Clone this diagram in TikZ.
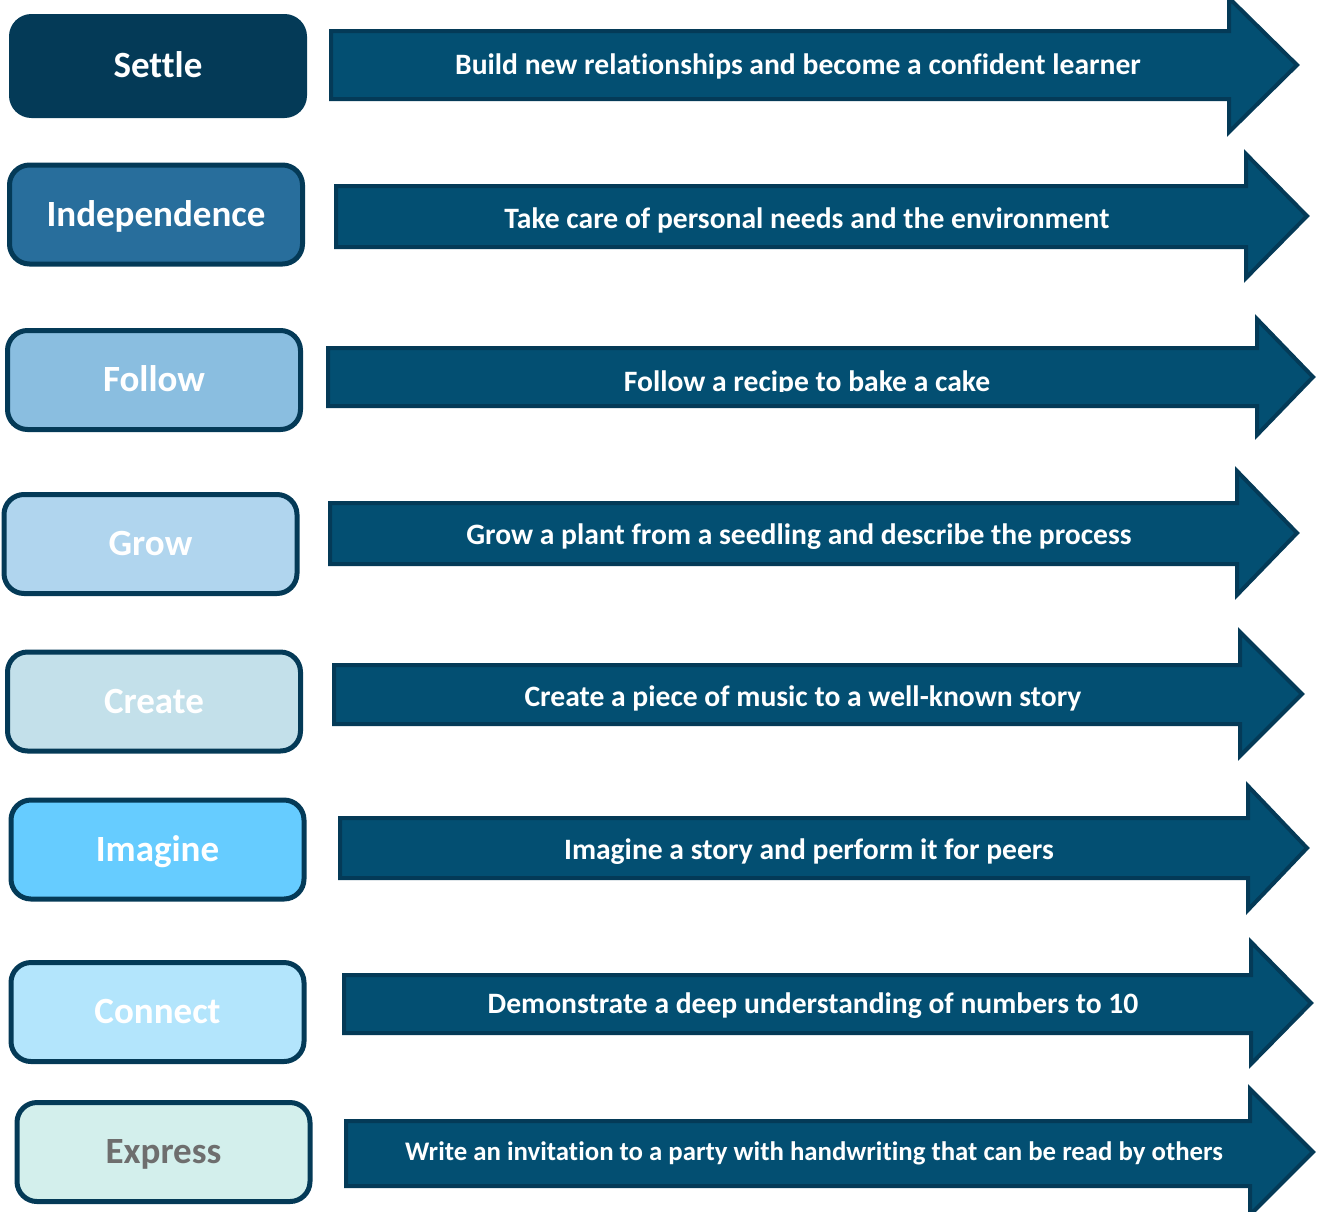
\documentclass[tikz,border=0pt]{standalone}
\usepackage{fontspec}
\setmainfont{Carlito}[Ligatures=NoCommon]
\definecolor{sotet}{HTML}{043A57}
\definecolor{csikkek}{HTML}{034F72}
\definecolor{settlek}{HTML}{043A57}
\definecolor{indepk}{HTML}{286E9C}
\definecolor{followk}{HTML}{8ABEE0}
\definecolor{growk}{HTML}{B0D5EE}
\definecolor{createk}{HTML}{C3E0EA}
\definecolor{imaginek}{HTML}{66CCFF}
\definecolor{connectk}{HTML}{B3E5FC}
\definecolor{expressk}{HTML}{D3EFEC}
\definecolor{szurke}{HTML}{6E6E6E}
\tikzset{
  kartya/.style={draw=sotet,line width=2.5pt,rounded corners=10pt,
    minimum width=146.5pt,minimum height=49.5pt,inner sep=0pt,text=white,
    text height=14.5pt,text depth=3pt,font=\fontsize{18.5}{22}\selectfont\bfseries},
  csik/.style={draw=sotet,fill=csikkek,line width=2pt,line join=miter},
  felirat/.style={text=white,inner sep=0pt,font=\fontsize{14.8}{17}\selectfont\bfseries},
}
% shaft left, shaft top, shaft bottom, head base, tip x, tip y, half head
\newcommand{\csikrajz}[7]{%
  \draw[csik] (#1,#2) -- (#4,#2) -- (#4,{#6-#7}) -- (#5,#6) -- (#4,{#6+#7})
    -- (#4,#3) -- (#1,#3) -- cycle;}

\begin{document}
\begin{tikzpicture}[x=0.5pt,y=-0.5pt]
  \useasboundingbox (0,0) rectangle (1323,1211);
  % left column of cards
  \node[kartya,fill=settlek] (settle) at (158,66) {Settle};
  \node[kartya,fill=indepk] (indep) at (156,214.5) {Independence};
  \node[kartya,fill=followk] (follow) at (154,380) {Follow};
  \node[kartya,fill=growk] (grow) at (150.5,544) {Grow};
  \node[kartya,fill=createk] (create) at (154,701.5) {Create};
  \node[kartya,fill=imaginek] (imagine) at (157.5,849.5) {Imagine};
  \node[kartya,fill=connectk] (connect) at (157.5,1012) {Connect};
  \node[kartya,fill=expressk,text=szurke] (express) at (163.5,1152) {Express};
  % arrows
  \csikrajz{331}{31}{99}{1229}{1297}{65}{67}
  \csikrajz{336}{186}{247}{1246}{1307}{216}{62}
  \csikrajz{328}{348}{406}{1257}{1313}{377}{58}
  \csikrajz{330}{503}{564}{1237}{1297}{533}{62}
  \csikrajz{334}{665}{724}{1240}{1302}{694}{62}
  \csikrajz{340}{818}{878}{1248}{1307}{848}{62}
  \csikrajz{344}{975}{1033}{1251}{1311}{1003}{61}
  \csikrajz{346}{1121}{1186}{1250}{1313}{1152}{63}
  % texts on the arrows
  \node[felirat] (t1) at (798,66) {Build new relationships and become a\ confident learner};
  \node[felirat] (t2) at (807,220) {Take care of personal needs and the environment};
  \begin{scope}
    \clip (328,348) rectangle (1257,391);
    \node[felirat] (t3) at (807,383) {Follow a recipe to bake a cake};
  \end{scope}
  \node[felirat] (t4) at (799,537) {Grow a plant from a seedling and describe the process};
  \node[felirat] (t5) at (803,698) {Create a piece of music to a well-known story};
  \node[felirat] (t6) at (809,852) {Imagine a story and perform it for peers};
  \node[felirat] (t7) at (813,1006) {Demonstrate a deep understanding of numbers to 10};
  \node[felirat,font=\fontsize{13.4}{16}\selectfont\bfseries] (t8) at (814,1153)
    {Write an invitation to a party with handwriting that can be read by others};
\end{tikzpicture}
\end{document}
